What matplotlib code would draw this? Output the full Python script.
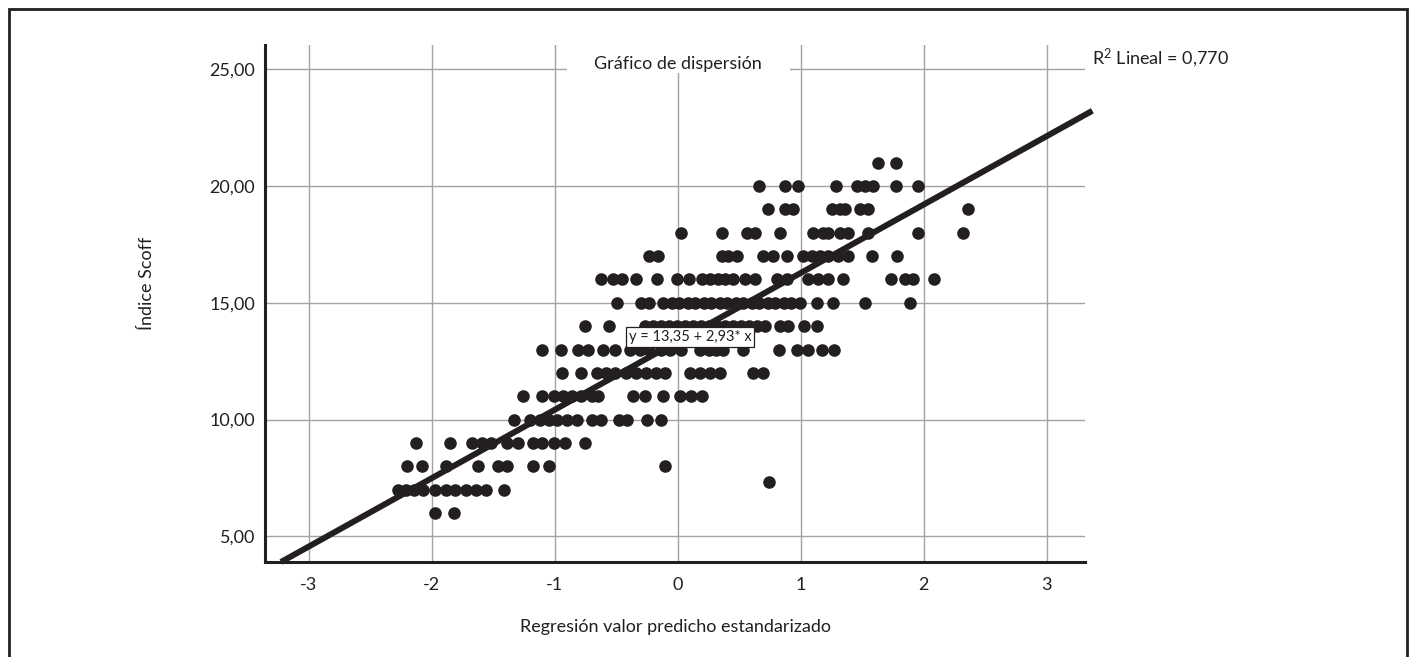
import numpy as np
import matplotlib.pyplot as plt
from matplotlib.patches import Rectangle

plt.rcParams['font.family'] = ['Lato', 'DejaVu Sans']

INK = '#231f20'
GRID = '#a3a3a3'

# ----------------------------------------------------------------------
# Data: standardised predicted value (x) for every observed Scoff level
# ----------------------------------------------------------------------
x_at_6 = [-1.97, -1.82]
x_at_7 = [-2.27, -2.21, -2.14, -2.07, -1.97, -1.88, -1.81, -1.72, -1.64, -1.56, -1.41]
x_at_8 = [-2.20, -2.08, -1.88, -1.62, -1.46, -1.39, -1.18, -1.05, -0.10]
x_at_9 = [-2.13, -1.85, -1.67, -1.59, -1.52, -1.39, -1.30, -1.18, -1.10, -1.01, -0.92, -0.75]
x_at_10 = [-1.33, -1.20, -1.12, -1.05, -0.98, -0.90, -0.82, -0.70, -0.62, -0.48, -0.41,
           -0.25, -0.14]
x_at_11 = [-1.26, -1.10, -1.01, -0.93, -0.86, -0.79, -0.70, -0.65, -0.36, -0.27, -0.12,
           0.02, 0.11, 0.20]
x_at_12 = [-0.94, -0.79, -0.66, -0.58, -0.51, -0.42, -0.34, -0.26, -0.18, -0.10, 0.10,
           0.18, 0.26, 0.34, 0.61, 0.69]
x_at_13 = [-1.10, -0.95, -0.81, -0.73, -0.61, -0.51, -0.39, -0.31, -0.23, -0.14, -0.06,
           0.03, 0.18, 0.25, 0.31, 0.37, 0.53, 0.82, 0.97, 1.06, 1.17, 1.27]
x_at_14 = [-0.75, -0.56, -0.27, -0.20, -0.14, -0.07, -0.01, 0.06, 0.12, 0.19, 0.25,
           0.32, 0.38, 0.45, 0.51, 0.58, 0.64, 0.71, 0.83, 0.90, 1.03, 1.13]
x_at_15 = [-0.49, -0.30, -0.23, -0.12, -0.05, 0.01, 0.08, 0.14, 0.21, 0.27, 0.34, 0.40,
           0.47, 0.53, 0.60, 0.66, 0.73, 0.79, 0.86, 0.92, 0.99, 1.13, 1.26, 1.52, 1.89]
x_at_16 = [-0.62, -0.53, -0.45, -0.34, -0.17, -0.01, 0.09, 0.20, 0.26, 0.33, 0.38, 0.45,
           0.55, 0.63, 0.81, 0.89, 1.06, 1.14, 1.22, 1.34, 1.73, 1.85, 1.91, 2.08]
x_at_17 = [-0.23, -0.16, 0.36, 0.41, 0.48, 0.69, 0.77, 0.89, 1.02, 1.09, 1.16, 1.22,
           1.30, 1.38, 1.58, 1.78]
x_at_18 = [0.03, 0.36, 0.56, 0.63, 0.83, 1.10, 1.18, 1.22, 1.32, 1.38, 1.55, 1.95, 2.32]
x_at_19 = [0.73, 0.87, 0.94, 1.25, 1.32, 1.36, 1.48, 1.55, 2.36]
x_at_20 = [0.66, 0.87, 0.98, 1.29, 1.46, 1.52, 1.59, 1.77, 1.95]
x_at_21 = [1.63, 1.77]
outlier_x = [0.74]
outlier_y = [7.33]

levels = [6, 7, 8, 9, 10, 11, 12, 13, 14, 15, 16, 17, 18, 19, 20, 21]
rows = [x_at_6, x_at_7, x_at_8, x_at_9, x_at_10, x_at_11, x_at_12, x_at_13, x_at_14,
        x_at_15, x_at_16, x_at_17, x_at_18, x_at_19, x_at_20, x_at_21]

intercept = 13.35
slope = 2.93
r2_text = r'$\mathregular{R^2}$ Lineal = 0,770'

y_ticks = [5, 10, 15, 20, 25]
y_ticklabels = ['5,00', '10,00', '15,00', '20,00', '25,00']
x_ticks = [-3, -2, -1, 0, 1, 2, 3]
x_ticklabels = ['-3', '-2', '-1', '0', '1', '2', '3']

xs = np.concatenate([np.asarray(r, float) for r in rows] + [np.asarray(outlier_x)])
ys = np.concatenate([np.full(len(r), lv, float) for r, lv in zip(rows, levels)] +
                    [np.asarray(outlier_y)])

# ----------------------------------------------------------------------
W, H = 1414, 657
fig = plt.figure(figsize=(W / 100, H / 100), dpi=100)
ax = fig.add_axes([265 / W, 1 - 562 / H, (1085 - 265) / W, (562 - 45) / H])

xlim = (-3.355, 3.31)
ylim = (3.9, 26.04)
ax.set_xlim(*xlim)
ax.set_ylim(*ylim)

ax.grid(True, color=GRID, linewidth=1.0)
ax.set_axisbelow(True)
for side in ['top', 'right']:
    ax.spines[side].set_visible(False)
for side in ['left', 'bottom']:
    ax.spines[side].set_linewidth(2.2)
    ax.spines[side].set_color(INK)

ax.set_xticks(x_ticks)
ax.set_xticklabels(x_ticklabels)
ax.set_yticks(y_ticks)
ax.set_yticklabels(y_ticklabels)
ax.tick_params(axis='both', length=0, labelsize=13, colors=INK)
ax.tick_params(axis='y', pad=7)
ax.tick_params(axis='x', pad=11)

ax.scatter(xs, ys, s=82, color=INK, linewidths=0, zorder=3)

# fitted line, starting where it meets the lower edge
x0 = (ylim[0] - intercept) / slope
x_line = np.array([x0, 3.37])
ax.plot(x_line, intercept + slope * x_line, color=INK, linewidth=4.3,
        solid_capstyle='butt', clip_on=False, zorder=4)

ax.text(0.1, 13.55, 'y = 13,35 + 2,93* x', fontsize=10.5, color=INK,
        ha='center', va='center', zorder=5,
        bbox=dict(boxstyle='square,pad=0.2', facecolor='white',
                  edgecolor=INK, linewidth=0.9))

# title sits in a white gap cut out of the top gridline
ax.add_patch(Rectangle((-0.9, 24.84), 1.81, ylim[1] - 24.84, facecolor='white',
                       edgecolor='none', zorder=2))
ax.text(0.0, 25.23, 'Gráfico de dispersión', fontsize=13, color=INK,
        ha='center', va='center', zorder=5)

fig.text(1092 / W, 1 - 58 / H, r2_text, fontsize=13, color=INK,
         ha='left', va='center')
fig.text(676 / W, 1 - 627 / H, 'Regresión valor predicho estandarizado',
         fontsize=13, color=INK, ha='center', va='center')
fig.text(147 / W, 1 - 283 / H, 'Índice Scoff', fontsize=13, color=INK,
         ha='center', va='center', rotation=90)

# outer frame (open at the bottom edge of the image)
fig.patches.append(Rectangle((8.5 / W, -0.05), (1407 - 8.5) / W, 1.05 - 8.5 / H,
                             transform=fig.transFigure, fill=False,
                             edgecolor=INK, linewidth=2.0))

fig.savefig('out.png', dpi=100)
